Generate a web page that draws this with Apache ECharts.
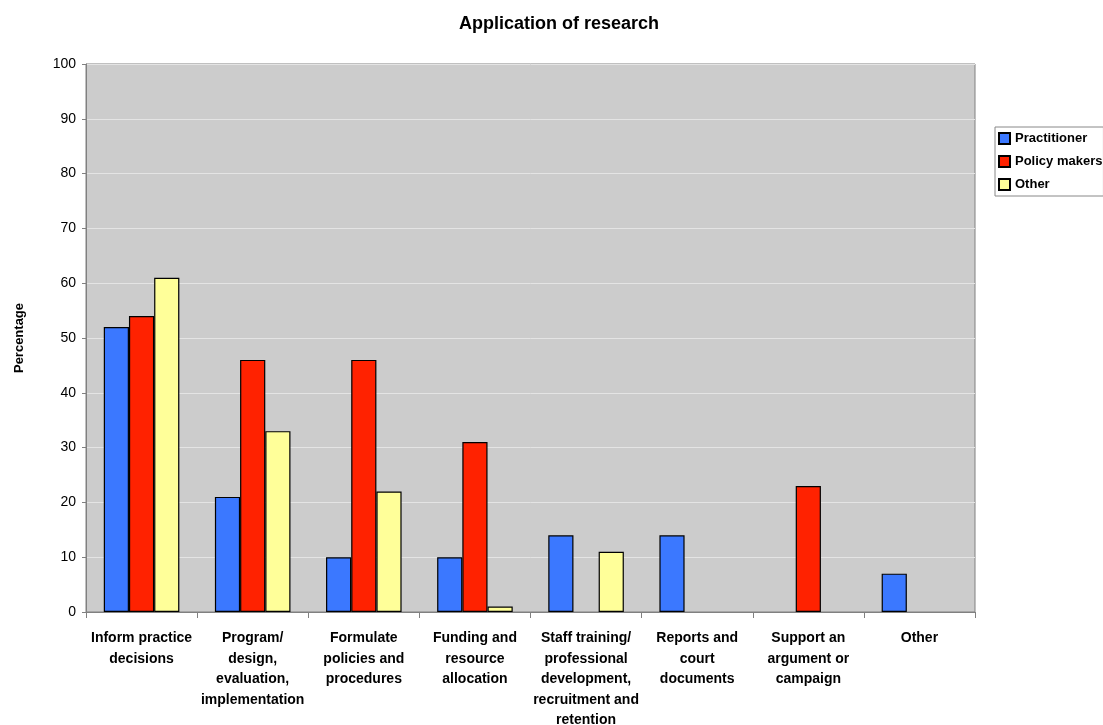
<!DOCTYPE html>
<html><head><meta charset="utf-8">
<script src="https://cdn.jsdelivr.net/npm/echarts@6/dist/echarts.min.js"></script>
<style>html,body{margin:0;padding:0;background:#fff}#c{width:1103px;height:725px}</style>
</head><body><div id="c"></div>
<script>
const categories = ["Inform practice\ndecisions","Program/\ndesign,\nevaluation,\nimplementation","Formulate\npolicies and\nprocedures","Funding and\nresource\nallocation","Staff training/\nprofessional\ndevelopment,\nrecruitment and\nretention","Reports and\ncourt\ndocuments","Support an\nargument or\ncampaign","Other"];
const practitioner = [52,21,10,10,14,14,0,7];
const policyMakers = [54,46,46,31,0,0,23,0];
const other = [61,33,22,1,11,0,0,0];
const seriesNames = ["Practitioner","Policy makers","Other"];
const colors = ["#3b78ff","#ff2200","#ffff99"];
const FONT = "Liberation Sans, Arial, sans-serif";
const chart = echarts.init(document.getElementById('c'));
const mk = (name, data, color) => ({
  name, type:'bar', data: data.map(v => v === 0 ? '-' : v), barGap:'0%', barCategoryGap:'32%',
  itemStyle:{color, borderColor:'#000', borderWidth:1.2},
  emphasis:{disabled:true}
});
chart.setOption({
  animation:false,
  backgroundColor:'#fff',
  title:{text:'Application of research', left:454, top:10,
    textStyle:{fontFamily:FONT, fontSize:18, fontWeight:'bold', color:'#000'}},
  legend:{orient:'vertical', left:995, top:127, itemWidth:11, itemHeight:11, itemGap:10,
    padding:[5,1,5,3], borderColor:'#888', borderWidth:1, backgroundColor:'#fff',
    textStyle:{fontFamily:FONT, fontSize:13, fontWeight:'bold', color:'#000', padding:[0,0,0,0]},
    icon:'rect', data:seriesNames},
  grid:{left:86, right:128, top:64, bottom:113, outerBoundsMode:'none', containLabel:false,
    show:true, backgroundColor:'#cccccc', borderColor:'#808080', borderWidth:1},
  xAxis:{type:'category', data:categories,
    axisLine:{lineStyle:{color:'#808080'}}, axisTick:{show:true, length:6, lineStyle:{color:'#808080'}},
    axisLabel:{interval:0, fontFamily:FONT, fontSize:14, fontWeight:'bold', color:'#000', lineHeight:20.5, margin:16}},
  yAxis:{type:'value', min:0, max:100, interval:10,
    name:'Percentage', nameLocation:'middle', nameRotate:90, nameGap:60,
    nameTextStyle:{fontFamily:FONT, fontSize:13, fontWeight:'bold', color:'#000'},
    axisLine:{show:true, lineStyle:{color:'#808080'}}, axisTick:{show:true, length:4, lineStyle:{color:'#808080'}},
    axisLabel:{fontFamily:FONT, fontSize:14, color:'#000', margin:10},
    splitLine:{lineStyle:{color:'#e4e4e4', width:1}}},
  series:[mk(seriesNames[0], practitioner, colors[0]), mk(seriesNames[1], policyMakers, colors[1]), mk(seriesNames[2], other, colors[2])]
});
</script></body></html>
